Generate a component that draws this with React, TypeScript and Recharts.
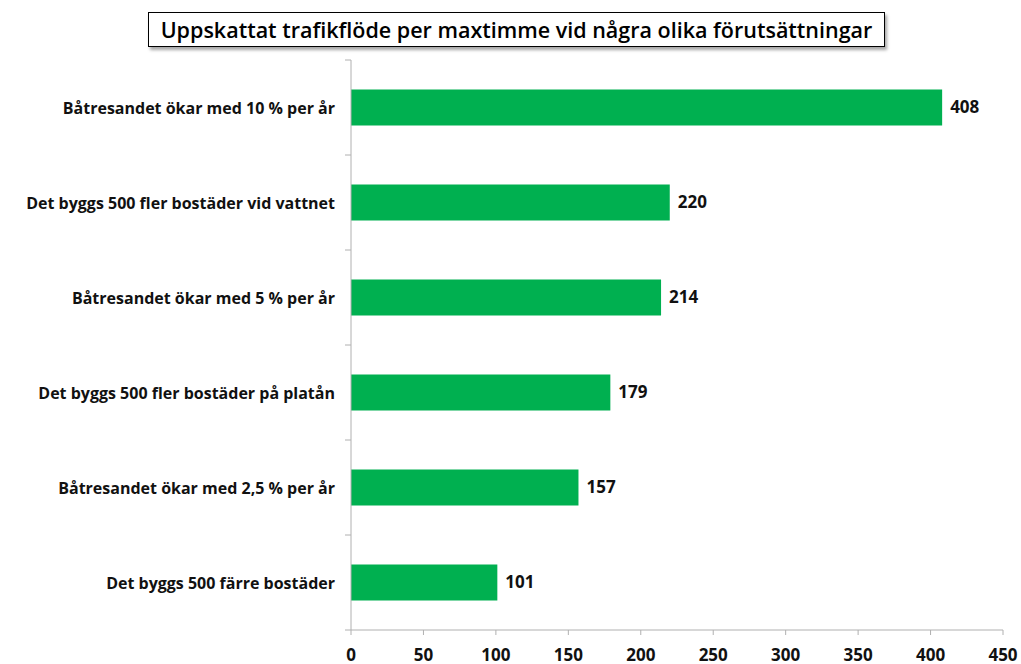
import React from "react";
import { BarChart, Bar, XAxis, YAxis, LabelList } from "recharts";

const categories = [
  "Båtresandet ökar med 10 % per år",
  "Det byggs 500 fler bostäder vid vattnet",
  "Båtresandet ökar med 5 % per år",
  "Det byggs 500 fler bostäder på platån",
  "Båtresandet ökar med 2,5 % per år",
  "Det byggs 500 färre bostäder",
];
const values = [408, 220, 214, 179, 157, 101];
const xTicks = [0, 50, 100, 150, 200, 250, 300, 350, 400, 450];
const title = "Uppskattat trafikflöde per maxtimme vid några olika förutsättningar";

const data = categories.map((name, i) => ({ name, value: values[i] }));

const FONT = "'Open Sans', Lato, sans-serif";
const AXIS_COLOR = "#b0b0b0";

const YTick = (props: any) => {
  const { x, y, payload, index, visibleTicksCount } = props;
  const half = payload && payload.offset ? payload.offset : 47.5;
  const axisX = x + 16;
  return (
    <g>
      <line x1={axisX - 6} x2={axisX} y1={y - half} y2={y - half} stroke={AXIS_COLOR} />
      {index === visibleTicksCount - 1 && (
        <line x1={axisX - 6} x2={axisX} y1={y + half} y2={y + half} stroke={AXIS_COLOR} />
      )}
      <text
        x={x}
        y={y}
        textAnchor="end"
        dominantBaseline="central"
        fontFamily={FONT}
        fontWeight={700}
        fontSize={16}
        fill="#111"
      >
        {payload.value}
      </text>
    </g>
  );
};

const XTick = (props: any) => {
  const { x, y, payload } = props;
  return (
    <g>
      <text
        x={x}
        y={y + 19}
        textAnchor="middle"
        dominantBaseline="central"
        fontFamily={FONT}
        fontWeight={700}
        fontSize={17}
        fill="#111"
      >
        {payload.value}
      </text>
    </g>
  );
};

export default function App() {
  return (
    <div style={{ position: "absolute", left: 0, top: 0, width: 1021, height: 664, background: "#fff" }}>
      <div
        style={{
          position: "absolute",
          left: 148,
          top: 12,
          width: 737,
          height: 35,
          border: "1px solid #000",
          boxShadow: "2px 3px 3px rgba(0,0,0,0.35)",
          boxSizing: "border-box",
          display: "flex",
          alignItems: "center",
          justifyContent: "center",
          fontFamily: FONT,
          fontWeight: 600,
          fontSize: 21.5,
          color: "#000",
          background: "#fff",
          whiteSpace: "nowrap",
        }}
      >
        {title}
      </div>
      <BarChart
        width={1021}
        height={664}
        data={data}
        layout="vertical"
        margin={{ top: 60, right: 18, bottom: 0, left: 0 }}
        barCategoryGap="31%"
      >
        <XAxis
          type="number"
          domain={[0, 450]}
          ticks={xTicks}
          interval={0}
          height={34}
          axisLine={{ stroke: AXIS_COLOR }}
          tickLine={{ stroke: AXIS_COLOR }}
          tickSize={5}
          tickMargin={0}
          tick={<XTick />}
        />
        <YAxis
          type="category"
          dataKey="name"
          width={351}
          axisLine={{ stroke: AXIS_COLOR }}
          tickLine={false}
          tickSize={0}
          tickMargin={16}
          interval={0}
          tick={<YTick />}
        />
        <Bar dataKey="value" fill="#00B050" isAnimationActive={false}>
          <LabelList
            dataKey="value"
            position="right"
            offset={8}
            style={{ fontFamily: FONT, fontWeight: 700, fontSize: 17, fill: "#111" }}
          />
        </Bar>
      </BarChart>
    </div>
  );
}
